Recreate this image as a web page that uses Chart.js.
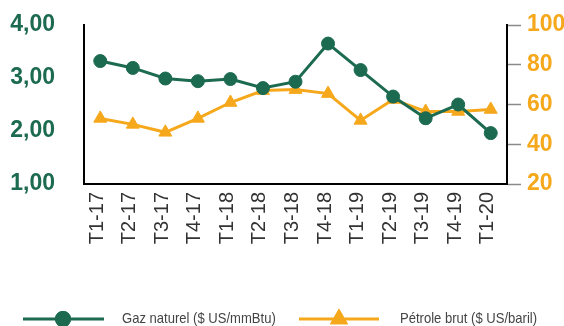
<!DOCTYPE html>
<html>
<head>
<meta charset="utf-8">
<script src="https://cdn.jsdelivr.net/npm/chart.js@4"></script>
<style>
  html, body { margin: 0; padding: 0; background: #ffffff; }
  #wrap { width: 564px; height: 326px; }
</style>
</head>
<body>
<div id="wrap"><canvas id="c" width="564" height="326"></canvas></div>
<script>
// Quarterly prices: natural gas (left axis) and crude oil (right axis)
const quarters = ['T1-17','T2-17','T3-17','T4-17','T1-18','T2-18','T3-18','T4-18','T1-19','T2-19','T3-19','T4-19','T1-20'];
const gasPrices = [3.32, 3.19, 2.99, 2.94, 2.98, 2.81, 2.93, 3.65, 3.15, 2.65, 2.24, 2.50, 1.96];
const oilPrices = [53, 50, 46, 53, 61, 67, 67.5, 65.5, 52, 62.5, 56.5, 56.5, 57.5];
const gasLabel = 'Gaz naturel ($ US/mmBtu)';
const oilLabel = 'Pétrole brut ($ US/baril)';
const gasTicks = [1, 2, 3, 4];
const oilTicks = [20, 40, 60, 80, 100];

const GREEN = '#1c6a50';
const ORANGE = '#f6a81c';
const FONT = "'Liberation Sans', Arial, sans-serif";

// Legend drawn underneath the axis labels: line sample with its marker, then the text
const lineLegend = {
  id: 'lineLegend',
  afterDraw(chart) {
    const ctx = chart.ctx;
    const y = 319;
    const slots = [
      { x0: 23, x1: 104, mx: 63, tx: 122 },
      { x0: 299, x1: 379, mx: 339, tx: 400 }
    ];
    chart.data.datasets.forEach((ds, i) => {
      const s = slots[i];
      ctx.save();
      ctx.strokeStyle = ds.borderColor;
      ctx.lineWidth = 3;
      ctx.beginPath();
      ctx.moveTo(s.x0, y);
      ctx.lineTo(s.x1, y);
      ctx.stroke();
      Chart.helpers.drawPoint(ctx, {
        pointStyle: ds.pointStyle,
        radius: ds.pointRadius,
        borderWidth: 1
      }, s.mx, y);
      ctx.fillStyle = ds.pointBackgroundColor;
      ctx.strokeStyle = ds.pointBorderColor;
      ctx.fill();
      ctx.stroke();
      ctx.restore();

      ctx.save();
      ctx.font = '15px ' + FONT;
      ctx.fillStyle = '#444444';
      ctx.textBaseline = 'middle';
      ctx.translate(s.tx, y);
      ctx.scale(0.87, 1);
      ctx.fillText(ds.label, 0, 0);
      ctx.restore();
    });
  }
};

new Chart(document.getElementById('c'), {
  type: 'line',
  data: {
    labels: quarters,
    datasets: [
      {
        label: gasLabel,
        data: gasPrices,
        yAxisID: 'yGas',
        borderColor: GREEN,
        backgroundColor: GREEN,
        pointBackgroundColor: GREEN,
        pointBorderColor: GREEN,
        borderWidth: 3,
        pointStyle: 'circle',
        pointRadius: 6.5,
        pointBorderWidth: 1,
        tension: 0,
        order: 1
      },
      {
        label: oilLabel,
        data: oilPrices,
        yAxisID: 'yOil',
        borderColor: ORANGE,
        backgroundColor: ORANGE,
        pointBackgroundColor: ORANGE,
        pointBorderColor: ORANGE,
        borderWidth: 3,
        pointStyle: 'triangle',
        pointRadius: 7.5,
        pointBorderWidth: 1,
        tension: 0,
        order: 2
      }
    ]
  },
  options: {
    responsive: false,
    animation: false,
    devicePixelRatio: 1,
    layout: { padding: { top: 25, left: 0, right: 0, bottom: 0 } },
    plugins: {
      legend: { display: false },
      tooltip: { enabled: false }
    },
    scales: {
      x: {
        offset: true,
        grid: { display: false, drawTicks: false },
        border: { display: true, color: '#000000', width: 2 },
        ticks: {
          minRotation: 90,
          maxRotation: 90,
          autoSkip: false,
          padding: 8,
          labelOffset: -3,
          color: '#333333',
          font: { family: FONT, size: 20 }
        },
        afterFit(scale) { scale.height = 142; }
      },
      yGas: {
        position: 'left',
        min: 1,
        max: 4,
        afterBuildTicks(scale) { scale.ticks = gasTicks.map(v => ({ value: v })); },
        grid: { display: false, drawTicks: false },
        border: { display: true, color: '#000000', width: 2 },
        ticks: {
          padding: 29,
          color: GREEN,
          font: { family: FONT, size: 23, weight: 'bold' },
          callback: v => v.toFixed(2).replace('.', ',')
        },
        afterFit(scale) {
          scale.width = 84;
          scale.paddingTop = 0;
          scale.paddingBottom = 0;
        }
      },
      yOil: {
        position: 'right',
        min: 20,
        max: 100,
        afterBuildTicks(scale) { scale.ticks = oilTicks.map(v => ({ value: v })); },
        grid: {
          display: true,
          drawOnChartArea: false,
          drawTicks: true,
          tickLength: 14,
          tickColor: '#8a8a8a',
          tickWidth: 1.5
        },
        border: { display: true, color: '#000000', width: 2 },
        ticks: {
          padding: 6,
          color: ORANGE,
          font: { family: FONT, size: 23, weight: 'bold' }
        },
        afterFit(scale) {
          scale.width = 57;
          scale.paddingTop = 0;
          scale.paddingBottom = 0;
        }
      }
    }
  },
  plugins: [lineLegend]
});
</script>
</body>
</html>
